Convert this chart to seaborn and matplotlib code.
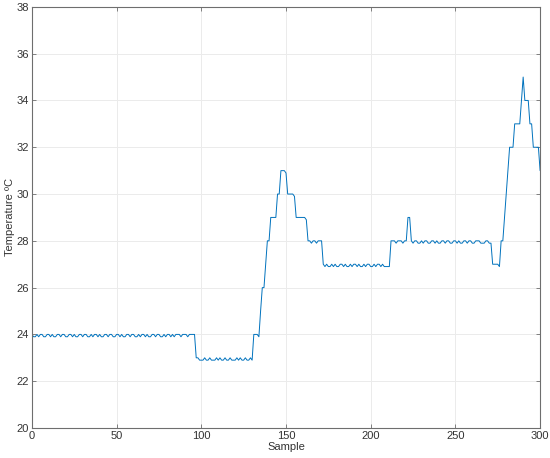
import numpy as np
import pandas as pd
import matplotlib
matplotlib.use("Agg")
import matplotlib.pyplot as plt
import seaborn as sns

# Temperatura, muestra 0..300
temp_24 = [  # muestras 0-96
    24.0, 23.9, 23.9, 24.0, 23.9, 24.0, 24.0, 23.9, 23.9, 24.0,
    24.0, 23.9, 24.0, 23.9, 23.9, 24.0, 24.0, 23.9, 24.0, 24.0,
    23.9, 23.9, 24.0, 24.0, 23.9, 24.0, 23.9, 23.9, 24.0, 24.0,
    23.9, 24.0, 24.0, 23.9, 23.9, 24.0, 23.9, 24.0, 24.0, 23.9,
    24.0, 23.9, 23.9, 24.0, 24.0, 23.9, 24.0, 24.0, 23.9, 23.9,
    24.0, 24.0, 23.9, 24.0, 23.9, 23.9, 24.0, 24.0, 23.9, 24.0,
    24.0, 23.9, 23.9, 24.0, 23.9, 24.0, 24.0, 23.9, 24.0, 23.9,
    23.9, 24.0, 24.0, 23.9, 24.0, 24.0, 23.9, 23.9, 24.0, 23.9,
    24.0, 24.0, 23.9, 24.0, 23.9, 24.0, 24.0, 24.0, 23.9, 24.0,
    24.0, 24.0, 23.9, 24.0, 24.0, 24.0, 24.0,
]
temp_23 = [  # muestras 97-130
    23.0, 23.0, 22.9, 22.9, 22.9, 23.0, 22.9, 22.9, 23.0, 22.9,
    22.9, 22.9, 23.0, 22.9, 23.0, 22.9, 22.9, 23.0, 22.9, 22.9,
    23.0, 22.9, 22.9, 22.9, 23.0, 22.9, 23.0, 22.9, 22.9, 23.0,
    22.9, 22.9, 23.0, 22.9,
]
temp_pico1 = [  # muestras 131-171
    24.0, 24.0, 24.0, 23.9, 25.0, 26.0, 26.0, 27.0, 28.0, 28.0,
    29.0, 29.0, 29.0, 29.0, 30.0, 30.0, 31.0, 31.0, 31.0, 30.9,
    30.0, 30.0, 30.0, 30.0, 29.9, 29.0, 29.0, 29.0, 29.0, 29.0,
    29.0, 28.9, 28.0, 28.0, 27.9, 28.0, 28.0, 27.9, 28.0, 28.0,
    28.0,
]
temp_27 = [  # muestras 172-211
    27.0, 26.9, 27.0, 26.9, 26.9, 27.0, 26.9, 27.0, 26.9, 26.9,
    27.0, 27.0, 26.9, 27.0, 26.9, 26.9, 27.0, 26.9, 27.0, 27.0,
    26.9, 27.0, 26.9, 26.9, 27.0, 26.9, 27.0, 27.0, 26.9, 26.9,
    27.0, 26.9, 27.0, 27.0, 26.9, 27.0, 26.9, 26.9, 26.9, 26.9,
]
temp_28 = [  # muestras 212-271
    28.0, 28.0, 28.0, 27.9, 28.0, 28.0, 28.0, 27.9, 28.0, 28.0,
    29.0, 29.0, 28.0,
    27.9, 28.0, 28.0, 27.9, 27.9, 28.0, 27.9, 28.0, 28.0, 27.9,
    27.9, 28.0, 28.0, 27.9, 28.0, 27.9, 27.9, 28.0, 28.0, 27.9,
    28.0, 28.0, 27.9, 27.9, 28.0, 28.0, 27.9, 28.0, 27.9, 27.9,
    28.0, 28.0, 27.9, 28.0, 28.0, 27.9, 27.9, 28.0, 28.0, 28.0,
    27.9, 27.9, 27.9, 28.0, 28.0, 27.9, 27.9,
]
temp_pico2 = [  # muestras 272-300
    27.0, 27.0, 27.0, 27.0, 26.9, 28.0, 28.0, 29.0, 30.0, 31.0,
    32.0, 32.0, 32.0, 33.0, 33.0, 33.0, 33.0, 34.0, 35.0, 34.0,
    34.0, 34.0, 33.0, 33.0, 32.0, 32.0, 32.0, 32.0, 31.0,
]

temperatura = temp_24 + temp_23 + temp_pico1 + temp_27 + temp_28 + temp_pico2
muestras = list(range(len(temperatura)))
datos = pd.DataFrame({"Sample": muestras, "Temp": temperatura})

x_ticks = [0, 50, 100, 150, 200, 250, 300]
y_ticks = [20, 22, 24, 26, 28, 30, 32, 34, 36, 38]

sns.set_style("whitegrid")
plt.rcParams["font.family"] = ["Liberation Sans", "DejaVu Sans"]

fig, ax = plt.subplots(figsize=(5.5, 4.58), dpi=100)
fig.subplots_adjust(left=0.058, right=0.982, top=0.985, bottom=0.0655)

sns.lineplot(data=datos, x="Sample", y="Temp", color="#0072BD", linewidth=0.7, ax=ax)

ax.set_xlim(0, 300)
ax.set_ylim(20, 38)
ax.set_xticks(x_ticks)
ax.set_yticks(y_ticks)
ax.set_xlabel("Sample", fontsize=8, color="#333333", labelpad=1)
ax.set_ylabel("Temperature ºC", fontsize=8, color="#333333", labelpad=1)
ax.grid(True, color="#ebebeb", linewidth=0.7)
ax.tick_params(axis="both", which="both", direction="in", length=3, width=0.6,
               color="#6e6e6e", labelsize=8, labelcolor="#333333",
               top=True, right=True, bottom=True, left=True, pad=2)
for s in ax.spines.values():
    s.set_visible(True)
    s.set_color("#6e6e6e")
    s.set_linewidth(0.8)

plt.savefig("out.png", dpi=100)
plt.close()
